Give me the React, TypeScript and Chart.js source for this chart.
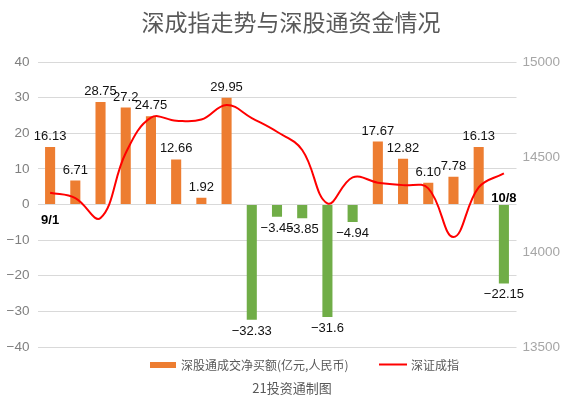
import React, { useEffect, useRef } from "react";
import { Chart, registerables } from "chart.js";

Chart.register(...registerables);

const dates = ["9/1", "9/2", "9/3", "9/4", "9/7", "9/8", "9/9", "9/10", "9/11", "9/14", "9/15", "9/16", "9/17", "9/18", "9/21", "9/22", "9/23", "9/24", "10/8"];
const netBuy = [16.13, 6.71, 28.75, 27.2, 24.75, 12.66, 1.92, 29.95, -32.33, -3.45, -3.85, -31.6, -4.94, 17.67, 12.82, 6.1, 7.78, 16.13, -22.15];
const netBuyLabels = ["16.13", "6.71", "28.75", "27.2", "24.75", "12.66", "1.92", "29.95", "−32.33", "−3.45", "−3.85", "−31.6", "−4.94", "17.67", "12.82", "6.10", "7.78", "16.13", "−22.15"];
const szIndex = [14312, 14284, 14179, 14521, 14707, 14691, 14697, 14774, 14705, 14633, 14537, 14256, 14393, 14365, 14352, 14335, 14079, 14340, 14414];
const leftTicks = [-40, -30, -20, -10, 0, 10, 20, 30, 40];
const rightTicks = [13500, 14000, 14500, 15000];
const shownDates = ["9/1", "10/8"];

const TITLE = "深成指走势与深股通资金情况";
const BAR_NAME = "深股通成交净买额(亿元,人民币)";
const LINE_NAME = "深证成指";
const FOOTER = "21投资通制图";

const ORANGE = "#ED7D31";
const GREEN = "#70AD47";
const RED = "#FF0000";
const CJK = '"Noto Sans CJK SC", "Noto Sans", sans-serif';
const NUM = '"Liberation Sans", Arial, sans-serif';

const decorPlugin = {
  id: "decor",
  afterDatasetsDraw(chart: any) {
    const ctx = chart.ctx;
    const barMeta = chart.getDatasetMeta(0);
    const yScale = chart.scales.y;
    const zeroY = yScale.getPixelForValue(0);
    ctx.save();
    // data labels
    ctx.font = `13px ${NUM}`;
    ctx.fillStyle = "#111111";
    ctx.textAlign = "center";
    barMeta.data.forEach((el: any, i: number) => {
      const v = netBuy[i];
      if (v >= 0) {
        ctx.textBaseline = "bottom";
        ctx.fillText(netBuyLabels[i], el.x, el.y - 4);
      } else {
        ctx.textBaseline = "top";
        ctx.fillText(netBuyLabels[i], el.x, el.y + 5);
      }
    });
    // date labels (first / last)
    ctx.font = `bold 13px ${NUM}`;
    ctx.fillStyle = "#000000";
    ctx.textBaseline = "middle";
    dates.forEach((d, i) => {
      if (!shownDates.includes(d)) return;
      const el = barMeta.data[i];
      const v = netBuy[i];
      const y = v >= 0 ? zeroY + 16 : zeroY - 6;
      ctx.fillText(d, el.x, y);
    });
    ctx.restore();
  },
  afterDraw(chart: any) {
    const ctx = chart.ctx;
    ctx.save();
    // title
    ctx.fillStyle = "#595959";
    ctx.textAlign = "center";
    ctx.textBaseline = "middle";
    ctx.font = `23px ${CJK}`;
    ctx.fillText(TITLE, 291, 22);
    // legend
    ctx.textAlign = "left";
    ctx.font = `12px ${CJK}`;
    ctx.fillStyle = ORANGE;
    ctx.fillRect(150, 362, 26, 6);
    ctx.fillStyle = "#595959";
    ctx.fillText(BAR_NAME, 181, 365);
    ctx.strokeStyle = RED;
    ctx.lineWidth = 2;
    ctx.beginPath();
    ctx.moveTo(379, 364.5);
    ctx.lineTo(407, 364.5);
    ctx.stroke();
    ctx.fillStyle = "#595959";
    ctx.fillText(LINE_NAME, 411, 365);
    // footer
    ctx.textAlign = "center";
    ctx.font = `13px ${CJK}`;
    ctx.fillText(FOOTER, 292, 388);
    ctx.restore();
  },
};

export default function App() {
  const canvasRef = useRef<HTMLCanvasElement | null>(null);

  useEffect(() => {
    const canvas = canvasRef.current;
    if (!canvas) return;
    const chart = new Chart(canvas, {
      type: "bar",
      data: {
        labels: dates,
        datasets: [
          {
            type: "bar",
            label: BAR_NAME,
            data: netBuy,
            yAxisID: "y",
            backgroundColor: (c: any) => (netBuy[c.dataIndex] >= 0 ? ORANGE : GREEN),
            barPercentage: 0.4,
            categoryPercentage: 1,
            order: 2,
          } as any,
          {
            type: "line",
            label: LINE_NAME,
            data: szIndex,
            yAxisID: "y1",
            borderColor: RED,
            borderWidth: 2,
            pointRadius: 0,
            tension: 0.4,
            fill: false,
            order: 1,
          } as any,
        ],
      },
      options: {
        responsive: false,
        animation: false,
        devicePixelRatio: 1,
        layout: { padding: { top: 62, bottom: 51, left: 0, right: 0 } },
        plugins: {
          legend: { display: false },
          tooltip: { enabled: false },
          title: { display: false },
        },
        scales: {
          x: { display: false },
          y: {
            position: "left",
            min: -40,
            max: 40,
            afterBuildTicks: (s: any) => {
              s.ticks = leftTicks.map((v) => ({ value: v }));
            },
            afterFit: (s: any) => {
              s.width = 37.5;
            },
            ticks: {
              padding: 8,
              color: "#7f7f7f",
              font: { family: NUM, size: 13.5 },
              callback: (v: any) => String(v).replace("-", "−"),
            },
            grid: { color: "#d9d9d9", drawTicks: false, lineWidth: 1 },
            border: { display: false },
          },
          y1: {
            position: "right",
            min: 13500,
            max: 15000,
            afterBuildTicks: (s: any) => {
              s.ticks = rightTicks.map((v) => ({ value: v }));
            },
            afterFit: (s: any) => {
              s.width = 49.5;
            },
            ticks: {
              padding: 6,
              color: "#a6a6a6",
              font: { family: NUM, size: 13.5 },
              callback: (v: any) => String(v),
            },
            grid: { drawOnChartArea: false, drawTicks: false },
            border: { display: false },
          },
        },
      } as any,
      plugins: [decorPlugin],
    });
    return () => chart.destroy();
  }, []);

  return (
    <div style={{ position: "absolute", left: 0, top: 0, width: 566, height: 398, background: "#ffffff" }}>
      <canvas ref={canvasRef} width={566} height={398} style={{ display: "block", width: 566, height: 398 }} />
    </div>
  );
}
